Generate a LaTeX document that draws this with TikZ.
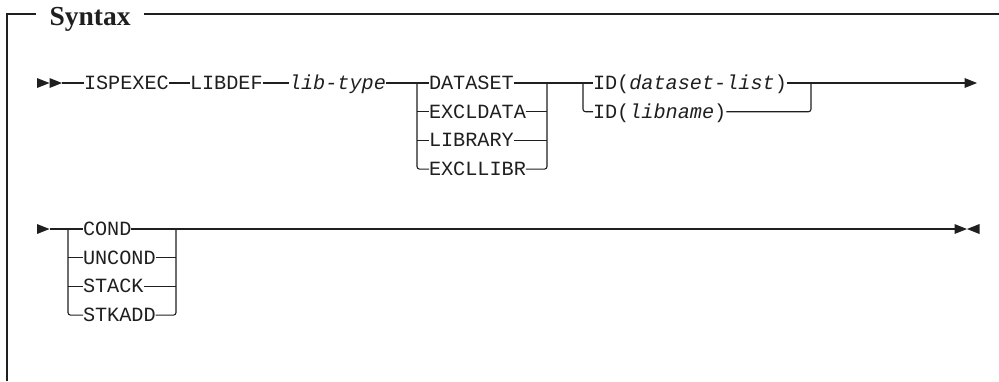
\documentclass[tikz,border=0pt]{standalone}
\usepackage{fontspec}
\setmonofont{Liberation Mono}
\newfontfamily\titlefont{Liberation Serif}
\usetikzlibrary{positioning, calc}

\begin{document}
\begin{tikzpicture}[
    x=1pt, y=-1pt, line width=1.1pt, black!88,
    kword/.style={inner sep=0pt, outer sep=0pt, anchor=west, text height=13pt, text depth=0pt, font=\fontsize{20.2}{24}\selectfont\ttfamily},
    titlebox/.style={inner xsep=13pt, inner ysep=0pt, anchor=base west, font=\fontsize{27.5}{32}\selectfont\titlefont\bfseries},
    branch/.style={rounded corners=2.5pt},
    rtri/.pic={\fill (0,0) -- (-12.5,-5) -- (-12.5,5) -- cycle;},
    ltri/.pic={\fill (0,0) -- (12.5,-5) -- (12.5,5) -- cycle;}
]
    \useasboundingbox (0,0) rectangle (999,381);

    % ================= FRAME =================
    \coordinate (ftop) at (7,14);
    \coordinate (fbot) at (7,381);
    \node[titlebox] (title) at (36,25) {Syntax};
    \draw (fbot) -- (ftop) -- (title.west |- ftop);
    \draw (title.east |- ftop) -- (999,14);

    % ================= FIRST LINE =================
    \coordinate (lead1) at (62,83);
    \pic at (49.5,83) {rtri};
    \pic at (lead1) {rtri};

    \node[kword] (ispexec) at (84,83) {ISPEXEC};
    \node[kword] (libdef) at (190,83) {LIBDEF};
    \node[kword] (libtype) at (289,83) {\itshape lib-type};

    \foreach \name/\txt [count=\i from 0] in {dataset/DATASET, excldata/EXCLDATA, library/LIBRARY, excllibr/EXCLLIBR}
        \node[kword] (\name) at (429, 83+28.7*\i) {\txt};

    \node[kword] (iddsl) at (593,83) {ID(\textit{dataset-list})};
    \node[kword] (idlib) at (593,111.7) {ID(\textit{libname})};

    \coordinate (j1l) at (417,83);
    \coordinate (j1r) at (547,83);
    \coordinate (j2l) at (583,83);
    \coordinate (j2r) at (811,83);
    \coordinate (end1) at (977,83);

    \draw (lead1) -- (ispexec);
    \draw (ispexec) -- (libdef);
    \draw (libdef) -- (libtype);
    \draw (libtype) -- (dataset);
    \draw (dataset) -- (iddsl);
    \draw[shorten >=4pt] (iddsl) -- (end1);
    \pic at (end1) {rtri};

    % lib-type choices
    \draw[branch] (j1l) |- (excllibr);
    \draw (excldata) -- (excldata -| j1l);
    \draw (library) -- (library -| j1l);
    \draw[branch] (excllibr) -| (j1r);
    \draw (excldata) -- (excldata -| j1r);
    \draw (library) -- (library -| j1r);

    % ID choices
    \draw[branch] (j2l) |- (idlib);
    \draw[branch] (idlib) -| (j2r);

    % ================= SECOND LINE =================
    \coordinate (lead2) at (49.5,229);
    \pic at (lead2) {rtri};

    \foreach \name/\txt [count=\i from 0] in {cond/COND, uncond/UNCOND, stack/STACK, stkadd/STKADD}
        \node[kword] (\name) at (83, 229+28.7*\i) {\txt};

    \coordinate (j3l) at (68,229);
    \coordinate (j3r) at (176,229);
    \coordinate (end2) at (967,229);

    \draw (lead2) -- (cond);
    \draw[shorten >=4pt] (cond) -- (end2);
    \pic at (end2) {rtri};
    \pic at (end2) {ltri};

    \draw[branch] (j3l) |- (stkadd);
    \draw (uncond) -- (uncond -| j3l);
    \draw (stack) -- (stack -| j3l);
    \draw[branch] (stkadd) -| (j3r);
    \draw (uncond) -- (uncond -| j3r);
    \draw (stack) -- (stack -| j3r);

\end{tikzpicture}
\end{document}
